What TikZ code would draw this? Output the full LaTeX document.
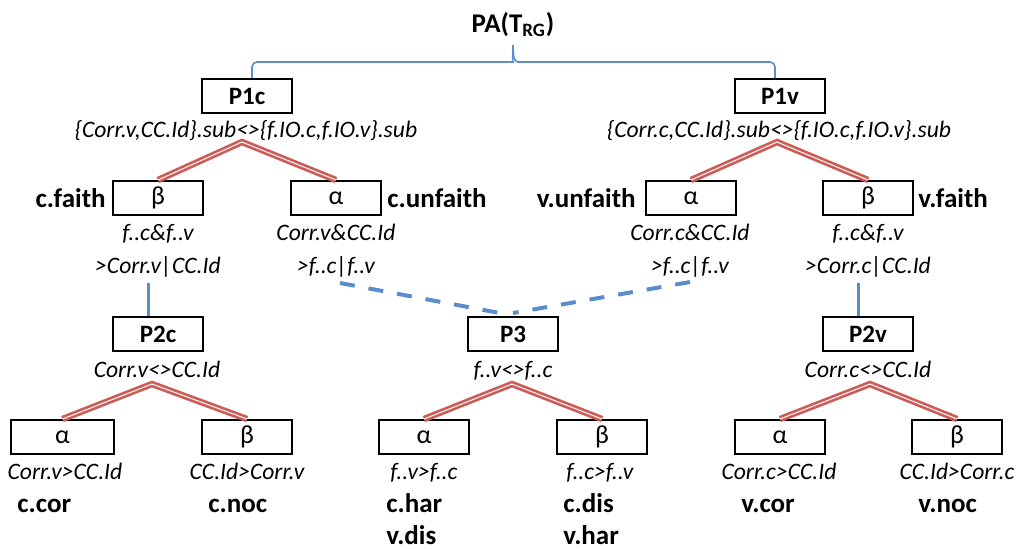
\documentclass[tikz,border=0pt]{standalone}
\usepackage{fontspec}
\setmainfont{Carlito}
\usepackage{tikz}
\usetikzlibrary{positioning}

\definecolor{splitred}{RGB}{205,92,86}
\definecolor{linkblue}{RGB}{91,141,205}

\tikzset{
  pbox/.style={draw, line width=1pt, minimum width=45pt, minimum height=17pt, inner sep=0pt, font=\bfseries\fontsize{12.5}{14}\selectfont},
  gbox/.style={draw, line width=1pt, minimum width=45pt, minimum height=17pt, inner sep=0pt, font=\fontsize{13}{15}\selectfont},
  cond/.style={anchor=base, inner sep=0pt, font=\itshape\fontsize{11.8}{14}\selectfont},
  tag/.style={inner sep=0pt, font=\bfseries\fontsize{13.5}{15}\selectfont},
  split/.style={draw=splitred, line width=1.35pt, double=white, double distance=0.5pt},
  link/.style={linkblue, line width=1.5pt},
  dlink/.style={linkblue, line width=2pt, dash pattern=on 7.5pt off 7pt},
  bracket/.style={linkblue, line width=0.8pt}
}

\begin{document}
\begin{tikzpicture}[x=0.5pt, y=-0.5pt]
    \useasboundingbox (0,0) rectangle (1016,548);

    % root
    \node[tag, anchor=base] (PA) at (513,32) {PA(T\textsubscript{RG})};
    \coordinate (tip) at (513,45);

    % first level
    \node[pbox] (P1c) at (247,96) {P1c};
    \node[pbox] (P1v) at (780,96) {P1v};
    \node[cond] (r1c) at (246,137) {\{Corr.v,CC.Id\}.sub<>\{f.IO.c,f.IO.v\}.sub};
    \node[cond] (r1v) at (779,137) {\{Corr.c,CC.Id\}.sub<>\{f.IO.c,f.IO.v\}.sub};

    \node[gbox] (b1c) at (158,198) {β};
    \node[gbox] (a1c) at (336,198) {α};
    \node[gbox] (a1v) at (691,198) {α};
    \node[gbox] (b1v) at (868,198) {β};
    \node[tag, left=3pt of b1c] (fc) {c.faith};
    \node[tag, right=2.5pt of a1c] (uc) {c.unfaith};
    \node[tag, left=4.5pt of a1v] (uv) {v.unfaith};
    \node[tag, right=2pt of b1v] (fv) {v.faith};

    \node[cond] (w1c) at (158,240) {f..c\&f..v};
    \node[cond] (x1c) at (336,240) {Corr.v\&CC.Id};
    \node[cond] (x1v) at (690,240) {Corr.c\&CC.Id};
    \node[cond] (w1v) at (868,240) {f..c\&f..v};
    \node[cond] (y1c) at (158,273) {>Corr.v|CC.Id};
    \node[cond] (z1c) at (336,273) {>f..c|f..v};
    \node[cond] (z1v) at (690,273) {>f..c|f..v};
    \node[cond] (y1v) at (868,273) {>Corr.c|CC.Id};

    % second level
    \node[pbox] (P2c) at (158,334) {P2c};
    \node[pbox] (P3) at (513,334) {P3};
    \node[pbox] (P2v) at (868,334) {P2v};
    \node[cond] (r2c) at (157,377) {Corr.v<>CC.Id};
    \node[cond] (r3) at (513,377) {f..v<>f..c};
    \node[cond] (r2v) at (868,377) {Corr.c<>CC.Id};

    \node[gbox, minimum width=51.5pt] (a2c) at (62.5,437) {α};
    \node[gbox] (b2c) at (247,437) {β};
    \node[gbox] (a3) at (424,437) {α};
    \node[gbox] (b3) at (602,437) {β};
    \node[gbox] (a2v) at (780,437) {α};
    \node[gbox] (b2v) at (957,437) {β};

    \node[cond] (o2c) at (65,479) {Corr.v>CC.Id};
    \node[cond] (n2c) at (247,479) {CC.Id>Corr.v};
    \node[cond] (o3) at (424,479) {f..v>f..c};
    \node[cond] (n3) at (600,479) {f..c>f..v};
    \node[cond] (o2v) at (779,479) {Corr.c>CC.Id};
    \node[cond] (n2v) at (957,479) {CC.Id>Corr.c};

    \node[tag, anchor=base west] (cor) at (17,512) {c.cor};
    \node[tag, anchor=base west] (noc) at (208,512) {c.noc};
    \node[tag, anchor=base west] (char) at (386,512) {c.har};
    \node[tag, anchor=base west] (vdis) at (386,544) {v.dis};
    \node[tag, anchor=base west] (cdis) at (563,512) {c.dis};
    \node[tag, anchor=base west] (vhar) at (563,544) {v.har};
    \node[tag, anchor=base west] (vcor) at (741,512) {v.cor};
    \node[tag, anchor=base west] (vnoc) at (918,512) {v.noc};

    % splits
    \coordinate (s1c) at (242,142);
    \coordinate (s1v) at (777,142);
    \coordinate (s2c) at (152,384);
    \coordinate (s3) at (512,384);
    \coordinate (s2v) at (870,384);
    \draw[split] (b1c.north) -- (s1c) -- (a1c.north);
    \draw[split] (a1v.north) -- (s1v) -- (b1v.north);
    \draw[split] (a2c.north) -- (s2c) -- (b2c.north);
    \draw[split] (a3.north) -- (s3) -- (b3.north);
    \draw[split] (a2v.north) -- (s2v) -- (b2v.north);

    % brace from the root
    \draw[bracket, rounded corners=2.5pt] ([xshift=2.5pt]P1c.north) |- (508,62)
        [sharp corners] .. controls (512,62) and (513,56) .. (tip)
        .. controls (513,56) and (514,62) .. (518,62)
        [rounded corners=2.5pt] -| ([xshift=-2.5pt]P1v.north);

    % links to the second level
    \coordinate (t2c) at (148,283);
    \coordinate (t2v) at (858,283);
    \coordinate (d1) at (340,283);
    \coordinate (d2) at (690,282);
    \draw[link] (t2c) -- (t2c |- P2c.north);
    \draw[link] (t2v) -- (t2v |- P2v.north);
    \draw[dlink] (d1) -- ([xshift=-4pt,yshift=1pt]P3.north);
    \draw[dlink] (d2) -- ([yshift=1.5pt]P3.north);
\end{tikzpicture}
\end{document}
